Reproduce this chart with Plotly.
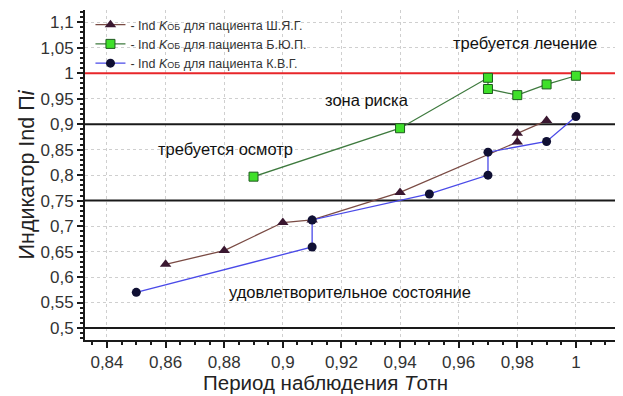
import plotly.graph_objects as go

# Data
x_shyag = [0.86, 0.88, 0.90, 0.91, 0.94, 0.98, 0.98, 0.99]
y_shyag = [0.625, 0.652, 0.707, 0.712, 0.766, 0.865, 0.882, 0.907]

x_byup = [0.89, 0.94, 0.97, 0.97, 0.98, 0.99, 1.00]
y_byup = [0.797, 0.892, 0.991, 0.969, 0.957, 0.978, 0.995]

x_kvg = [0.85, 0.91, 0.91, 0.95, 0.97, 0.97, 0.99, 1.00]
y_kvg = [0.570, 0.659, 0.712, 0.763, 0.800, 0.845, 0.866, 0.915]

threshold_levels = [1.0, 0.9, 0.75, 0.5]
threshold_colors = ["#e8262a", "#1a1a1a", "#1a1a1a", "#1a1a1a"]

zone_labels = ["требуется лечение", "зона риска", "требуется осмотр", "удовлетворительное состояние"]
zone_x = [0.9827, 0.9287, 0.8806, 0.9229]
zone_y = [1.059, 0.947, 0.851, 0.5706]

x_range = [0.8325, 1.0188]
y_range = [0.4765, 1.124]

x_tickvals = [0.84, 0.86, 0.88, 0.90, 0.92, 0.94, 0.96, 0.98, 1.00]
x_ticktext = ["0,84", "0,86", "0,88", "0,9", "0,92", "0,94", "0,96", "0,98", "1"]
y_tickvals = [0.5, 0.55, 0.6, 0.65, 0.7, 0.75, 0.8, 0.85, 0.9, 0.95, 1.0, 1.05, 1.1]
y_ticktext = ["0,5", "0,55", "0,6", "0,65", "0,7", "0,75", "0,8", "0,85", "0,9", "0,95", "1", "1,05", "1,1"]

x_title = "Период наблюдения <i>T</i>отн"
y_title = "Индикатор Ind П<i>i</i>"

KOB = "<i>K</i><span style='font-size:9px'>ОБ</span>"

fig = go.Figure()

# threshold lines drawn first so data marks sit on top
for lvl, col in zip(threshold_levels, threshold_colors):
    fig.add_trace(go.Scatter(
        x=x_range, y=[lvl, lvl], mode="lines", showlegend=False, hoverinfo="skip",
        line=dict(color=col, width=2),
    ))

fig.add_trace(go.Scatter(
    x=x_shyag, y=y_shyag, mode="lines+markers",
    name="- Ind " + KOB + " для пациента Ш.Я.Г.",
    line=dict(color="#7a4b44", width=1.3),
    marker=dict(symbol="triangle-up", size=10, color="#3a1730", line=dict(width=0)),
))
fig.add_trace(go.Scatter(
    x=x_byup, y=y_byup, mode="lines+markers",
    name="- Ind " + KOB + " для пациента Б.Ю.П.",
    line=dict(color="#3e7a3e", width=1.3),
    marker=dict(symbol="square", size=9, color="#3fe02a", line=dict(width=1, color="#1f5a1f")),
))
fig.add_trace(go.Scatter(
    x=x_kvg, y=y_kvg, mode="lines+markers",
    name="- Ind " + KOB + " для пациента К.В.Г.",
    line=dict(color="#4a4ae8", width=1.3),
    marker=dict(symbol="circle", size=9, color="#101034", line=dict(width=0)),
))

for t, xx, yy in zip(zone_labels, zone_x, zone_y):
    fig.add_annotation(x=xx, y=yy, text=t, showarrow=False,
                       font=dict(family="Arial, Liberation Sans", size=16.5, color="#111111"))

# x-axis title (placed as paper annotation to match the original's horizontal position)
fig.add_annotation(xref="paper", yref="paper", x=0.441, y=-0.13, xanchor="center", yanchor="middle",
                   text=x_title, showarrow=False,
                   font=dict(family="Arial, Liberation Sans", size=20.5, color="#222222"))

axis_font = dict(family="Arial, Liberation Sans", size=17, color="#333333")

fig.update_xaxes(
    range=x_range, tickvals=x_tickvals, ticktext=x_ticktext,
    tickfont=axis_font, showline=True, linecolor="#1a1a1a", linewidth=2,
    ticks="outside", ticklen=6, tickwidth=1.5, tickcolor="#1a1a1a",
    showgrid=True, gridcolor="#cfcfcf", griddash="dot", gridwidth=1,
    minor=dict(dtick=0.005, tick0=0.84, ticks="outside", ticklen=3, tickcolor="#1a1a1a", showgrid=False),
    zeroline=False, automargin=False,
)
fig.update_yaxes(
    range=y_range, tickvals=y_tickvals, ticktext=y_ticktext,
    tickfont=axis_font, showline=True, linecolor="#1a1a1a", linewidth=2,
    ticks="outside", ticklen=6, tickwidth=1.5, tickcolor="#1a1a1a",
    showgrid=True, gridcolor="#cfcfcf", griddash="dot", gridwidth=1,
    minor=dict(dtick=0.01, tick0=0.5, ticks="outside", ticklen=3, tickcolor="#1a1a1a", showgrid=False),
    zeroline=False, automargin=False,
    title=dict(text=y_title, font=dict(family="Arial, Liberation Sans", size=21.5, color="#222222"), standoff=0),
)

fig.update_layout(
    width=623, height=396,
    margin=dict(l=77, r=0, t=2, b=64),
    plot_bgcolor="white", paper_bgcolor="white",
    separators=", ",
    legend=dict(x=0.01, y=1.0, xanchor="left", yanchor="top",
                bgcolor="rgba(255,255,255,0)", tracegroupgap=0,
                font=dict(family="Arial, Liberation Sans", size=12.5, color="#333333"),
                itemwidth=30),
    showlegend=True,
)

fig.write_html("out.html")
